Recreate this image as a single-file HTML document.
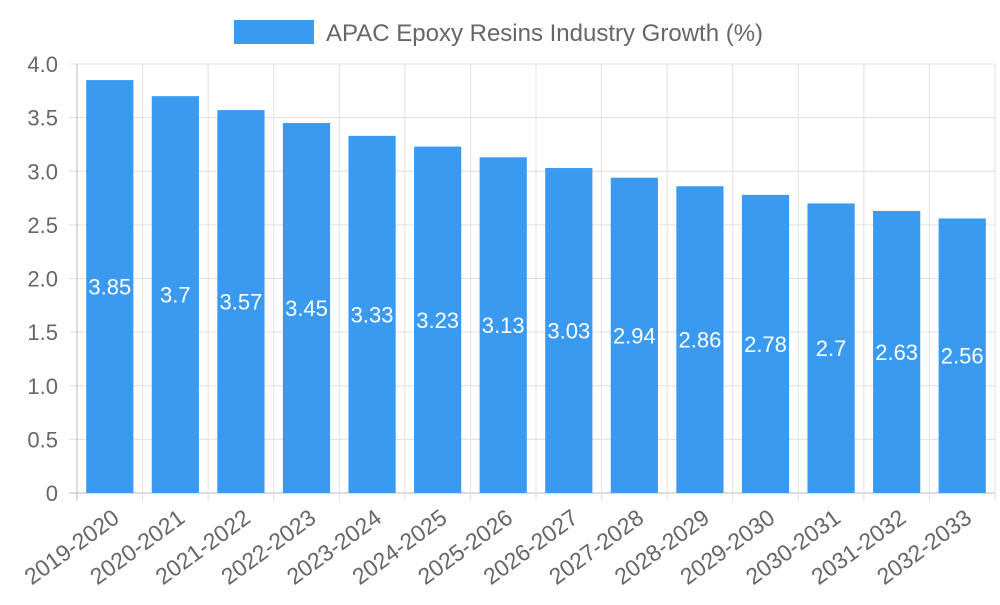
<!DOCTYPE html>
<html><head><meta charset="utf-8"><style>
body{margin:0;background:#fff;font-family:"Liberation Sans",sans-serif}
</style></head><body>
<svg id="c" width="1000" height="600" xmlns="http://www.w3.org/2000/svg"></svg>
<script>
const categories=["2019-2020","2020-2021","2021-2022","2022-2023","2023-2024","2024-2025","2025-2026","2026-2027","2027-2028","2028-2029","2029-2030","2030-2031","2031-2032","2032-2033"];
const values=[3.85,3.7,3.57,3.45,3.33,3.23,3.13,3.03,2.94,2.86,2.78,2.7,2.63,2.56];
const yTicks=[0,0.5,1,1.5,2,2.5,3,3.5,4];
const yTickLabels=["0","0.5","1.0","1.5","2.0","2.5","3.0","3.5","4.0"];
const svg=document.getElementById('c');const NS="http://www.w3.org/2000/svg";
const L=77,R=995,T=64,B=493,yMax=4;
const bw=(R-L)/categories.length;
const y=v=>B-(v/yMax)*(B-T);
const x=i=>L+bw*i;
function el(t,a,p){const e=document.createElementNS(NS,t);for(const k in a)e.setAttribute(k,a[k]);(p||svg).appendChild(e);return e;}
const grid=el('g',{});


yTicks.forEach((t,i)=>{
 el('line',{x1:L-8,x2:R,y1:y(t),y2:y(t),stroke:i==0?'#bbb':'#e0e0e0','stroke-width':1},grid);
 const tx=el('text',{x:L-19,y:y(t)+8,'text-anchor':'end','font-size':22,fill:'#666'});
 tx.textContent=yTickLabels[i];
 
 
});
for(let i=0;i<=categories.length;i++){
 el('line',{x1:x(i),x2:x(i),y1:T,y2:B+8,stroke:i==0?'#bbb':'#e0e0e0','stroke-width':1},grid);
}
categories.forEach((c,i)=>{
 const cx=x(i)+bw/2,w=bw*0.72;
 const r=el('rect',{x:cx-w/2,y:y(values[i]),width:w,height:B-y(values[i]),fill:'#3a9af0'});
 
 
 const vt=el('text',{x:cx,y:(y(values[i])+B)/2+8,'text-anchor':'middle','font-size':22,fill:'#fff'});
 vt.textContent=values[i];
 
 
 const ax=cx+11,ay=B+28;
 const lt=el('text',{x:ax,y:ay,'text-anchor':'end','font-size':23,fill:'#666',transform:`rotate(-36 ${ax} ${ay})`});
 lt.textContent=c;
 
 
});
const lg=el('g',{});


el('rect',{x:234,y:20,width:80,height:24,fill:'#3a9af0'},lg);
const lt=el('text',{x:326,y:41,'font-size':24,fill:'#666'},lg);
lt.textContent="APAC Epoxy Resins Industry Growth (%)";
</script>
</body></html>
